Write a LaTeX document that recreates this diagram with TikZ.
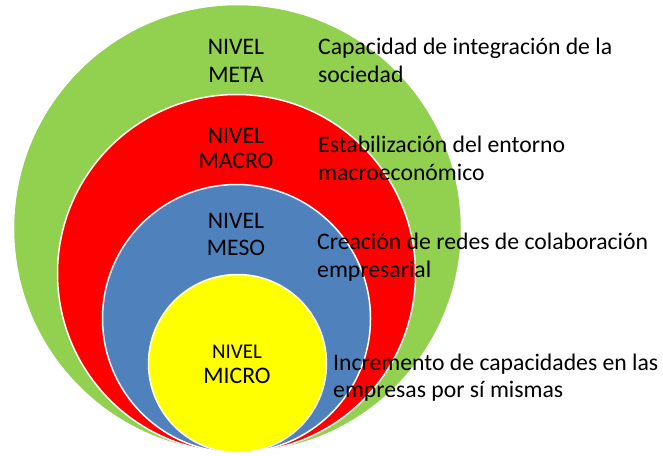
\documentclass[tikz,border=0pt]{standalone}
\usepackage{fontspec}
\setmainfont{Carlito}
\definecolor{cgreen}{HTML}{92D050}
\definecolor{cred}{HTML}{FF0000}
\definecolor{cblue}{HTML}{4F81BD}
\definecolor{cyellow}{HTML}{FFFF00}
\tikzset{
  ring/.style={draw=white, line width=1.5pt},
  lvl/.style={anchor=base, inner sep=0pt, font=\fontsize{23.7}{28}\selectfont},
  desc/.style={anchor=base west, inner sep=0pt, font=\fontsize{23.7}{28}\selectfont},
}
\begin{document}
\begin{tikzpicture}[x=1pt,y=-1pt]
\useasboundingbox (0,0) rectangle (663,455);
\path[ring, fill=cgreen] (237.5,228.5) circle [radius=224pt];
\path[ring, fill=cred] (236.5,273.5) circle [radius=179pt];
\path[ring, fill=cblue] (236.5,318.5) circle [radius=134pt];
\path[ring, fill=cyellow] (237.5,363.5) circle [radius=89pt];
% level labels
\node[lvl] (meta1) at (236,54) {NIVEL};
\node[lvl] (meta2) at (236,82) {META};
\node[lvl] (macro1) at (236,143) {NIVEL};
\node[lvl] (macro2) at (236,168) {MACRO};
\node[lvl] (meso1) at (236,228) {NIVEL};
\node[lvl] (meso2) at (236,255) {MESO};
\node[lvl, font=\fontsize{21}{25}\selectfont] (micro1) at (237,358) {NIVEL};
\node[lvl] (micro2) at (237,383) {MICRO};
% descriptions
\node[desc] (d1a) at (318,54) {Capacidad de integración de la};
\node[desc] (d1b) at (318,82) {sociedad};
\node[desc] (d2a) at (318,152) {Estabilización del entorno};
\node[desc] (d2b) at (318,180) {macroeconómico};
\node[desc] (d3a) at (317,249) {Creación de redes de colaboración};
\node[desc] (d3b) at (317,277) {empresarial};
\node[desc] (d4a) at (333,370) {Incremento de capacidades en las};
\node[desc] (d4b) at (333,397) {empresas por sí mismas};
\end{tikzpicture}
\end{document}
